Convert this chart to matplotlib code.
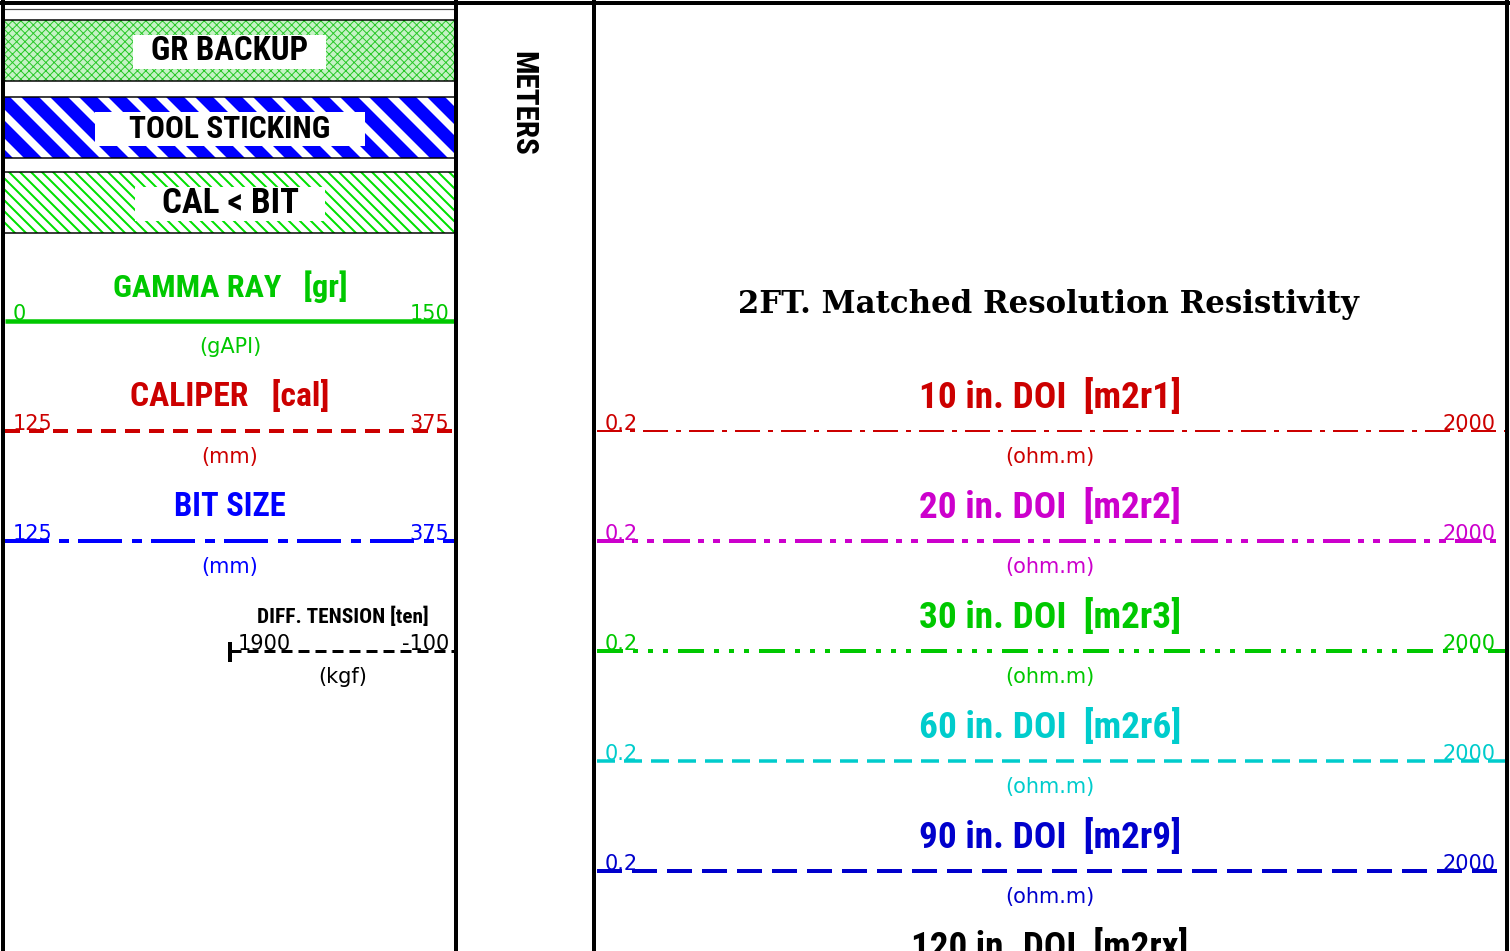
import numpy as np
import matplotlib.pyplot as plt
from matplotlib import font_manager
from matplotlib.patches import Rectangle

# curve legend data, track 1
t1_names = ['GAMMA RAY   [gr]', 'CALIPER   [cal]', 'BIT SIZE', 'DIFF. TENSION [ten]']
t1_units = ['(gAPI)', '(mm)', '(mm)', '(kgf)']
t1_left = ['0', '125', '125', '1900']
t1_right = ['150', '375', '375', '-100']
t1_colors = ['#00c800', '#cc0000', '#0000ff', 'black']

# resistivity track
res_names = ['10 in. DOI  [m2r1]', '20 in. DOI  [m2r2]', '30 in. DOI  [m2r3]',
             '60 in. DOI  [m2r6]', '90 in. DOI  [m2r9]', '120 in. DOI  [m2rx]']
res_units = ['(ohm.m)'] * 6
res_left = ['0.2'] * 6
res_right = ['2000'] * 6
res_colors = ['#cc0000', '#cc00cc', '#00c800', '#00cccc', '#0000cc', 'black']

flag_names = ['GR BACKUP', 'TOOL STICKING', 'CAL < BIT']
res_title = '2FT. Matched Resolution Resistivity'
depth_label = 'METERS'

plt.rcParams['lines.scale_dashes'] = False
plt.rcParams['hatch.linewidth'] = 0.7

names = {f.name for f in font_manager.fontManager.ttflist}
narrow = [n for n in ('Liberation Sans Narrow', 'DejaVu Sans Condensed', 'Roboto Condensed')
          if n in names] + ['DejaVu Sans']

W, H = 1510, 951
PX = 0.72  # points per pixel at dpi 100
fig = plt.figure(figsize=(W / 100, H / 100), dpi=100)
ax = fig.add_axes([0, 0, 1, 1])
ax.set_xlim(0, W)
ax.set_ylim(H, 0)
ax.axis('off')
renderer = fig.canvas.get_renderer()


def fit(t, width, vertical=False):
    bb = t.get_window_extent(renderer)
    w = bb.height if vertical else bb.width
    t.set_fontsize(t.get_fontsize() * width / w)


def stripes(x0, x1, y0, y1, period, lw, color):
    rect = Rectangle((x0, y0), x1 - x0, y1 - y0, fill=False, lw=0)
    ax.add_patch(rect)
    h = y1 - y0
    for s in np.arange(x0 - h - period, x1 + period, period):
        ln, = ax.plot([s - 10, s + h + 10], [y0 - 10, y1 + 10], color=color, lw=lw,
                      solid_capstyle='butt', zorder=2)
        ln.set_clip_path(rect)


# frame
lwk = 4 * PX
ax.plot([0, W], [3, 3], color='black', lw=lwk, zorder=6)
for x in (3, 456, 594, 1507):
    ax.plot([x, x], [0, H], color='black', lw=lwk, zorder=6)
ax.plot([4, 456], [9, 9], color='#444444', lw=1.2 * PX, zorder=5)

# flag boxes in track 1
tops = [20, 97, 172]
bh = 61
ax.add_patch(Rectangle((4, tops[0]), 452, bh, facecolor='#c6f2c6', edgecolor='#28c828',
                       hatch='xxxx', lw=0, zorder=1))
stripes(4, 456, tops[1], tops[1] + bh, 29, 12.7 * PX, '#0000ff')
stripes(4, 456, tops[2], tops[2] + bh, 11, 2 * PX, '#00e000')
lab_boxes = [(133, 326), (95, 365), (135, 325)]
for i, name in enumerate(flag_names):
    y0 = tops[i]
    for yy in (y0, y0 + bh):
        ax.plot([4, 456], [yy, yy], color='black', lw=1.5 * PX, zorder=4)
    bx0, bx1 = lab_boxes[i]
    ax.add_patch(Rectangle((bx0, y0 + 15), bx1 - bx0, 34, facecolor='white', lw=0, zorder=3))
    t = ax.text((bx0 + bx1) / 2, y0 + bh / 2 + 1, name, ha='center', va='center',
                family=narrow, fontweight='bold', fontsize=18, color='black', zorder=5)
    fit(t, [157, 202, 137][i])

# depth track label
t = ax.text(523, 103, depth_label, rotation=-90, ha='center', va='center',
            family=narrow, fontweight='bold', fontsize=18, color='black')
fit(t, 105, vertical=True)

# track 1 curves
t1_dash = [None, (15, 9), (44, 10, 10, 9), (11, 6)]
t1_lw = [4.5, 4, 4, 3]
for i in range(len(t1_names)):
    ly = 321 + 110 * i
    c = t1_colors[i]
    if i == 3:
        xa, cx = 230, 343
        ax.plot([xa, xa], [644, 660], color=c, lw=4 * PX)
        tw = 172
    else:
        xa, cx = 5, 230
        tw = [235, 200, 112][i]
    ln, = ax.plot([xa, 454], [ly, ly], color=c, lw=t1_lw[i] * PX, solid_capstyle='butt')
    if t1_dash[i]:
        ln.set_dashes([d * PX for d in t1_dash[i]])
    t = ax.text(cx, ly - 34, t1_names[i], ha='center', va='center', family=narrow,
                fontweight='bold', fontsize=18, color=c)
    fit(t, tw)
    ax.text(xa + 8, ly - 1, t1_left[i], ha='left', va='baseline', fontsize=15, color=c)
    ax.text(449, ly - 1, t1_right[i], ha='right', va='baseline', fontsize=15, color=c)
    ax.text(cx, ly + 26, t1_units[i], ha='center', va='center', fontsize=15, color=c)

# resistivity track
t = ax.text(1048, 305, res_title, ha='center', va='center', family=['DejaVu Serif'],
            fontweight='bold', fontsize=20, color='black')
fit(t, 620)

res_dash = [(25, 8, 5, 8), (27, 8, 6, 9, 7, 9), (26, 10, 5, 10, 5, 10, 5, 10),
            (18, 9), (25, 10), (25, 10)]
res_lw = [2, 4, 4, 3.5, 4, 4]
for i in range(len(res_names)):
    ly = 431 + 110 * i
    c = res_colors[i]
    t = ax.text(1050, ly - 34, res_names[i], ha='center', va='center', family=narrow,
                fontweight='bold', fontsize=18, color=c)
    fit(t, 262 if i < 5 else 278)
    if ly > H:
        continue  # rest of this legend lies below the sheet
    ln, = ax.plot([597, 1505], [ly, ly], color=c, lw=res_lw[i] * PX, solid_capstyle='butt')
    ln.set_dashes([d * PX for d in res_dash[i]])
    ax.text(605, ly - 1, res_left[i], ha='left', va='baseline', fontsize=15, color=c)
    ax.text(1496, ly - 1, res_right[i], ha='right', va='baseline', fontsize=15, color=c)
    ax.text(1050, ly + 26, res_units[i], ha='center', va='center', fontsize=15, color=c)

fig.savefig('out.png', dpi=100)
